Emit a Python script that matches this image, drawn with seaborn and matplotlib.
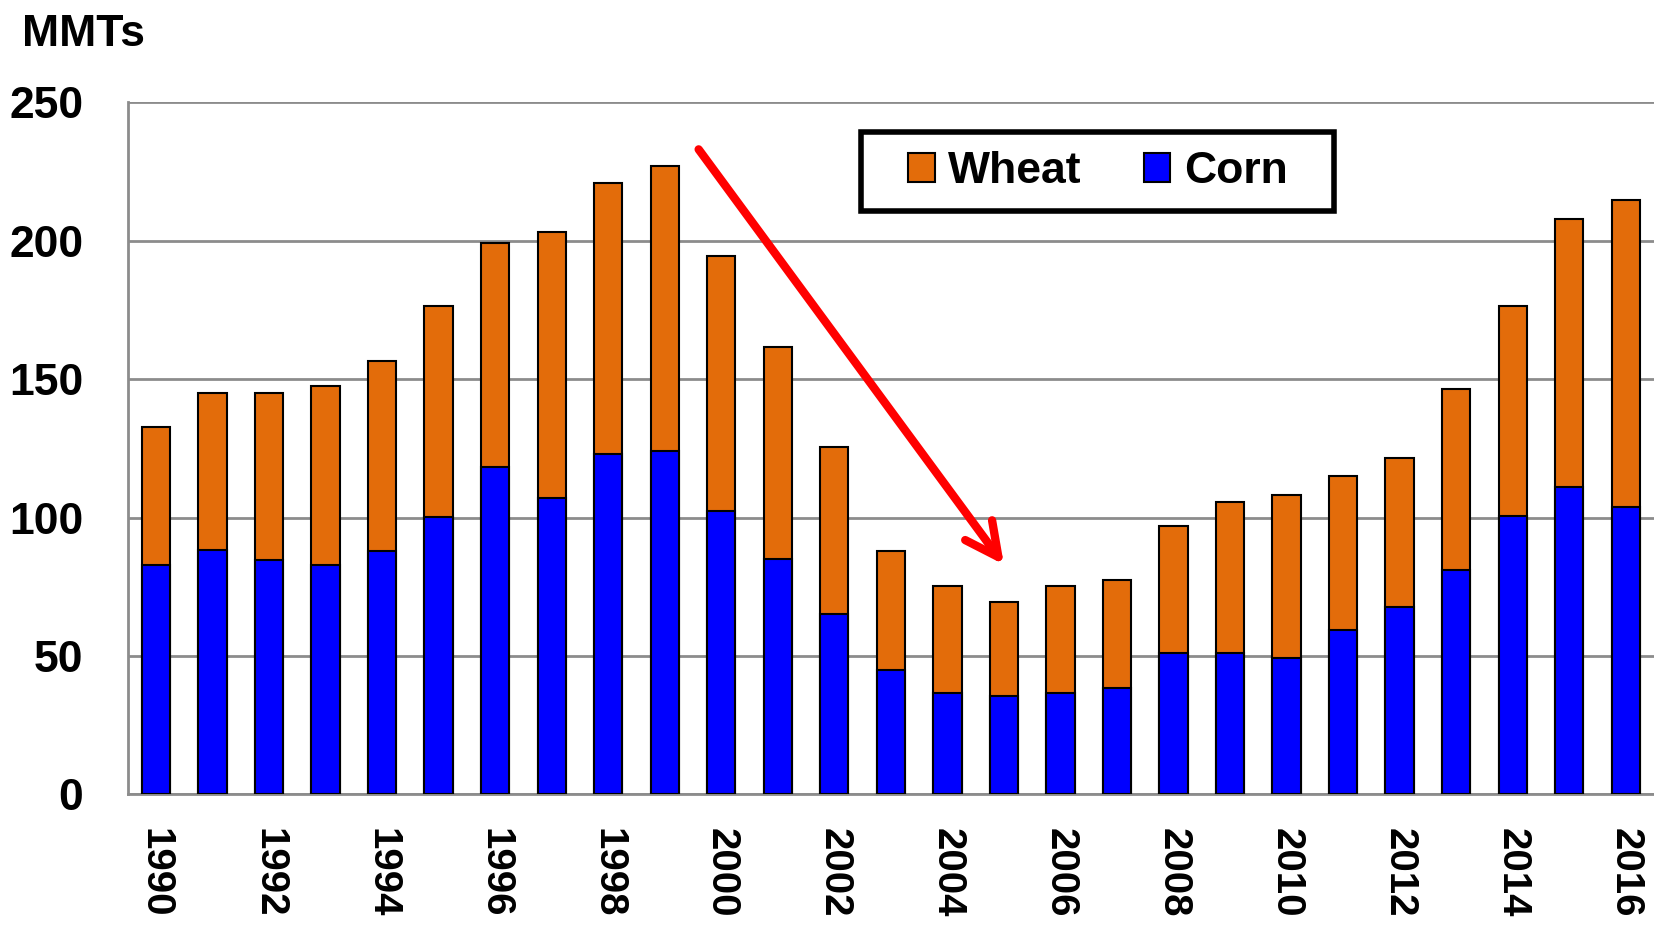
import numpy as np
import pandas as pd
import matplotlib
matplotlib.use("Agg")
import matplotlib.pyplot as plt
import seaborn as sns
from matplotlib.patches import Patch, Rectangle

# Data (million metric tonnes)
years = [str(y) for y in range(1990, 2017)]
corn = [82.7, 88.4, 84.6, 82.7, 88.0, 100.2, 118.1, 107.1, 123.1, 123.9, 102.5, 85.0, 65.2, 45.0,
        36.6, 35.4, 36.6, 38.5, 51.1, 51.1, 49.2, 59.5, 67.5, 81.2, 100.6, 110.9, 103.7]
wheat = [49.9, 56.4, 60.2, 64.8, 68.6, 76.2, 81.2, 96.0, 97.9, 103.2, 91.9, 76.6, 60.2, 43.0,
         38.5, 34.0, 38.5, 38.9, 45.7, 54.5, 59.0, 55.6, 54.1, 65.1, 75.8, 96.8, 110.9]
yticks = [0, 50, 100, 150, 200, 250]

wheat_color = "#E36C0A"
corn_color = "#0000FF"
grid_color = "#8C8C8C"
font = ["Liberation Sans", "DejaVu Sans"]

df = pd.DataFrame({"Year": years, "Corn": corn, "Wheat": wheat})
df["Total"] = df["Corn"] + df["Wheat"]

sns.set_style("white")
plt.rcParams["text.color"] = "black"
fig = plt.figure(figsize=(16.54, 9.25), dpi=100)
ax = fig.add_axes([0.0772, 0.1413, 0.9228, 0.7481])

# stacked bars: total (wheat on top) then corn drawn over it
sns.barplot(data=df, x="Year", y="Total", color=wheat_color, width=0.5,
            edgecolor="black", linewidth=1.5, saturation=1, ax=ax, zorder=3)
sns.barplot(data=df, x="Year", y="Corn", color=corn_color, width=0.5,
            edgecolor="black", linewidth=1.5, saturation=1, ax=ax, zorder=4)

ax.set_xlim(-0.5, len(years) - 0.5)
ax.set_ylim(0, 250)
ax.set_yticks(yticks)
ax.set_yticklabels([str(t) for t in yticks], fontsize=32, fontweight="bold", family=font)
ax.yaxis.grid(True, color=grid_color, linewidth=2, zorder=0)
ax.set_axisbelow(True)
ax.tick_params(axis="y", length=16, width=2, color=grid_color, pad=16, labelcolor="black")

# labels every other year, tick marks at category boundaries
ax.set_xticks(range(0, len(years), 2))
ax.set_xticklabels(years[::2], rotation=270, fontsize=29, fontweight="bold", family=font)
ax.set_xticks(np.arange(-0.5, len(years), 1), minor=True)
ax.tick_params(axis="x", which="major", length=0, pad=24, labelcolor="black")
ax.tick_params(axis="x", which="minor", length=16, width=2, color=grid_color)
ax.set_xlabel("")
ax.set_ylabel("")

for side in ["top", "right"]:
    ax.spines[side].set_visible(False)
for side in ["left", "bottom"]:
    ax.spines[side].set_color(grid_color)
    ax.spines[side].set_linewidth(2)

fig.text(0.0135, 0.985, "MMTs", fontsize=32, fontweight="bold", family=font,
         color="black", ha="left", va="top")

# legend box
box = Rectangle((0.4805, 0.843), 0.31, 0.114, transform=ax.transAxes, facecolor="white",
                edgecolor="black", linewidth=4, zorder=5)
ax.add_patch(box)
handles = [Patch(facecolor=wheat_color, edgecolor="black", linewidth=1.5, label="Wheat"),
           Patch(facecolor=corn_color, edgecolor="black", linewidth=1.5, label="Corn")]
leg = ax.legend(handles=handles, ncol=2, loc="center", bbox_to_anchor=(0.6355, 0.9),
                prop={"family": font, "weight": "bold", "size": 32},
                frameon=False, handlelength=0.6, handleheight=0.65,
                handletextpad=0.3, columnspacing=1.4, borderaxespad=0)
leg.set_zorder(6)
for t in leg.get_texts():
    t.set_color("black")

# red trend arrow
ax.annotate("", xy=(15.0, 83), xytext=(9.6, 233),
            arrowprops=dict(arrowstyle="->,head_length=2.4,head_width=1.2",
                            color="red", lw=6, shrinkA=0, shrinkB=0,
                            capstyle="round", joinstyle="round"), zorder=6)

fig.savefig("out.png", dpi=100)
